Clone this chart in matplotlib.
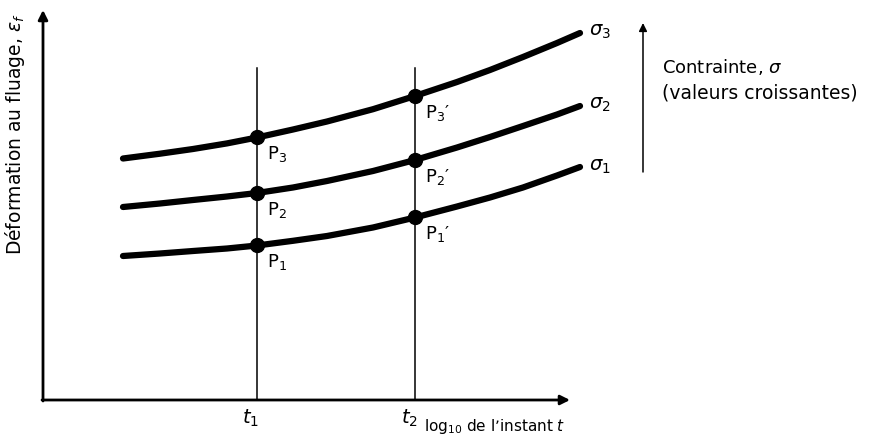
import matplotlib
matplotlib.use("Agg")
import matplotlib.pyplot as plt

W, H = 870, 436

# (x = log time position, y = creep strain, both in picture units)
x_pts = [123, 160, 193, 227, 257, 293, 327, 373, 415, 457, 490, 523, 557, 580]
sigma1 = [180, 182.5, 185, 187.5, 190.5, 195.2, 200, 208.5, 218.5, 229.5, 238.5, 248.5, 260.5, 269]
sigma2 = [229, 232.5, 236, 239.5, 243, 248.5, 255, 265, 276, 288.5, 299, 310, 321.5, 330]
sigma3 = [277.5, 282.3, 287, 292.6, 298.5, 306.5, 314.5, 326.8, 340, 354, 366, 379, 393, 403]
curves = [sigma1, sigma2, sigma3]
curve_labels = [r"$\sigma_1$", r"$\sigma_2$", r"$\sigma_3$"]

t_pos = [257, 415]
t_labels = [r"$t_1$", r"$t_2$"]
P_labels = [["P$_1$", "P$_1$\u2032"], ["P$_2$", "P$_2$\u2032"], ["P$_3$", "P$_3$\u2032"]]

plt.rcParams['font.family'] = ['DejaVu Sans']
plt.rcParams['mathtext.fontset'] = 'dejavusans'

fig = plt.figure(figsize=(W / 100, H / 100), dpi=100)
ax = fig.add_axes([0, 0, 1, 1])
ax.set_xlim(0, W)
ax.set_ylim(0, H)
ax.axis('off')

x0, y0 = 43, 36  # origin of the axes
# axes with arrows
ax.annotate('', xy=(570, y0), xytext=(x0 - 1, y0),
            arrowprops=dict(arrowstyle='-|>', lw=2, color='black', mutation_scale=14,
                            shrinkA=0, shrinkB=0))
ax.annotate('', xy=(x0, 426), xytext=(x0, y0 - 1),
            arrowprops=dict(arrowstyle='-|>', lw=2, color='black', mutation_scale=14,
                            shrinkA=0, shrinkB=0))

# vertical lines at t1, t2
for tp in t_pos:
    ax.plot([tp, tp], [y0, 368], color='black', lw=1.1)

# curves
for c in curves:
    ax.plot(x_pts, c, color='black', lw=4.5, solid_capstyle='round', solid_joinstyle='round')

# points at t1, t2
for c, labs in zip(curves, P_labels):
    for tp, lab in zip(t_pos, labs):
        yv = c[x_pts.index(tp)]
        ax.plot([tp], [yv], 'o', color='black', ms=10)
        ax.text(tp + 10, yv - 17, lab, fontsize=13, ha='left', va='center')

# curve labels
for c, lab in zip(curves, curve_labels):
    ax.text(x_pts[-1] + 9, c[-1] + 1, lab, fontsize=14, ha='left', va='center')

# tick labels
for tp, lab in zip(t_pos, t_labels):
    ax.text(tp - 6, 18, lab, fontsize=14, ha='center', va='center')

ax.text(565, 10, "log$_{10}$ de l\u2019instant $t$", fontsize=11, ha='right', va='center')
ax.text(15, 302, "Déformation au fluage, $\\varepsilon_f$", fontsize=13.5, rotation=90,
        ha='center', va='center')

# stress arrow
ax.annotate('', xy=(643, 413), xytext=(643, 264),
            arrowprops=dict(arrowstyle='-|>', lw=1.1, color='black', mutation_scale=12,
                            shrinkA=0, shrinkB=0))
ax.text(662, 369, "Contrainte, $\\sigma$", fontsize=13, ha='left', va='center')
ax.text(662, 343, "(valeurs croissantes)", fontsize=13.5, ha='left', va='center')

fig.savefig('out.png', dpi=100, facecolor='white')
